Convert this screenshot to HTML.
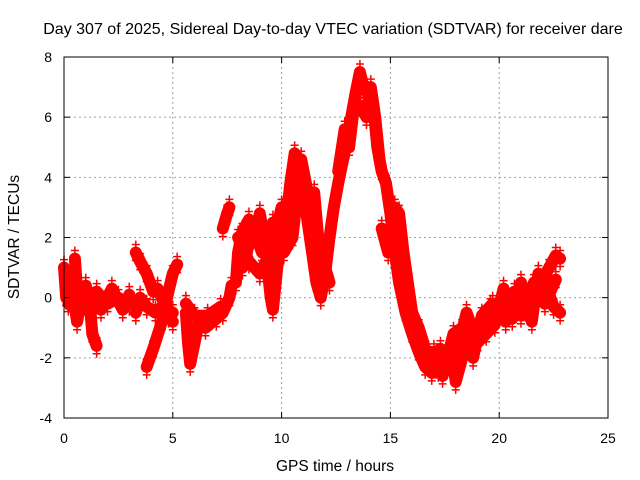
<!DOCTYPE html>
<html><head><meta charset="utf-8"><style>
body{margin:0;background:#fff}
svg{display:block;font-family:"Liberation Sans",sans-serif}
</style></head><body>
<svg id="chart" width="640" height="480" viewBox="0 0 640 480" xmlns="http://www.w3.org/2000/svg">
<rect width="640" height="480" fill="#fff"/>
<text x="333" y="34" font-size="16" text-anchor="middle">Day 307 of 2025, Sidereal Day-to-day VTEC variation (SDTVAR) for receiver dare</text>
<g id="grid"></g>
<g id="series"></g>
<g id="axes"></g>
<text x="335" y="471" font-size="15.5" text-anchor="middle">GPS time / hours</text>
<text transform="translate(19,237) rotate(-90)" font-size="15.5" text-anchor="middle">SDTVAR / TECUs</text>
</svg>
<script>
const xTicks = [0,5,10,15,20,25];
const yTicks = [-4,-2,0,2,4,6,8];
const traceA1 = [[0,1.0],[0.1,0],[0.3,0.6],[0.5,-0.3],[0.6,-0.8],[0.8,0],[1.0,0.4],[1.2,-0.3],[1.3,-1.2],[1.5,-1.6]];
const traceA2 = [[0.5,1.3],[0.6,0.2],[1.0,0],[1.5,0.2],[2.0,-0.2],[2.5,0],[3.0,-0.2]];
const traceA3 = [[0.2,-0.2],[0.7,-0.5],[1.2,-0.1],[1.7,-0.4],[2.2,0.3],[2.7,-0.4],[3.0,0.1]];
const traceB1 = [[3.3,1.5],[3.5,1.2],[3.8,0.8],[4.1,0.2],[4.3,0.3],[4.5,0],[4.8,-0.6],[5.0,-0.8]];
const traceB2 = [[3.3,-0.5],[3.5,0],[3.8,-0.3],[4.2,-0.5],[4.5,-0.3],[5.0,-0.5]];
const traceB3 = [[3.8,-2.3],[4.1,-1.7],[4.5,-0.8],[4.8,0.2],[5.0,0.8],[5.2,1.1]];
const traceC1 = [[5.6,-0.5],[5.7,-1.5],[5.8,-2.2],[6.0,-1.5],[6.2,-0.8],[6.5,-1.0],[7.0,-0.7],[7.3,-0.5],[7.6,0],[7.7,0.4]];
const traceC2 = [[5.6,-0.2],[6.0,-0.6],[6.6,-0.6],[7.2,-0.3]];
const traceC3 = [[7.3,2.3],[7.5,2.8],[7.6,3.0]];
const traceD1 = [[7.9,0.5],[8.0,1.5],[8.2,2.2],[8.5,2.6],[8.8,2.0],[9.0,2.8],[9.2,2.0],[9.5,0],[9.6,-0.4],[9.8,1.0],[10.0,2.0],[10.2,2.5],[10.4,3.8],[10.6,4.8],[10.8,4.5],[11.0,3.5],[11.2,2.5],[11.4,1.5],[11.6,0.5],[11.8,0],[12.0,0.8],[12.2,2.0],[12.4,3.0],[12.6,3.8],[12.8,4.5],[13.0,5.2],[13.2,6.0],[13.4,6.8],[13.6,7.5],[13.8,6.9],[14.0,6.8],[14.2,6.5],[14.4,5.0],[14.6,4.2],[14.8,3.8],[15.0,2.8],[15.2,1.5],[15.4,0.5],[15.7,-0.5],[16.0,-1.2],[16.3,-1.8],[16.6,-2.3],[16.9,-2.5],[17.2,-2.4],[17.5,-2.0],[17.8,-1.6],[18.0,-2.8],[18.3,-2.0],[18.6,-1.5],[19.0,-1.2],[19.3,-0.8],[19.6,-0.3],[19.9,-0.6],[20.2,-0.1],[20.5,-0.5],[20.8,-0.3],[21.0,-0.6],[21.3,0],[21.6,0.5],[22.0,0.6],[22.3,1.0],[22.6,1.4],[22.8,1.3]];
const traceD2 = [[8.0,2.0],[8.5,1.2],[9.0,0.8],[9.5,1.5],[10.0,3.0],[10.3,2.8],[10.6,4.0],[11.0,3.0],[11.3,2.5],[11.5,3.5],[11.8,1.0],[12.0,1.5]];
const traceD3 = [[8.2,1.0],[8.7,2.3],[9.1,1.5],[9.6,2.5],[10.1,1.5],[10.5,2.0],[10.9,4.6],[11.2,3.5],[11.6,2.0],[12.2,0.5]];
const traceD4 = [[12.6,4.2],[12.9,5.6],[13.1,5.0],[13.3,6.2],[13.6,6.4],[13.9,6.0],[14.1,7.0],[14.3,6.0],[14.5,4.6]];
const traceE = [[14.6,2.3],[14.9,1.5],[15.2,3.0],[15.4,2.8],[15.6,1.5],[15.8,0.5],[16.0,-0.5],[16.3,-1.0],[16.6,-1.7],[16.9,-2.0],[17.3,-1.7],[17.7,-2.2],[18.0,-2.0],[18.5,-0.5],[19.0,-1.5],[19.4,-1.2],[19.8,-0.9],[20.2,0.3],[20.6,-0.7],[21.0,0.5],[21.5,-0.8],[21.8,0.8],[22.2,0.3],[22.5,-0.3],[22.8,-0.5]];
const traceF = [[17.0,-1.8],[17.4,-2.6],[17.9,-1.2],[18.3,-1.0],[18.8,-2.0],[19.2,-0.6],[19.7,-0.2],[20.3,-0.8],[20.7,0.2],[21.2,-0.4],[21.7,0.2],[22.1,-0.2],[22.6,0.6]];
const traces = [traceA1,traceA2,traceA3,traceB1,traceB2,traceB3,traceC1,traceC2,traceC3,traceD1,traceD2,traceD3,traceD4,traceE,traceF];

const X0=64,X1=608,Y0=418,Y1=57;
const xScale = t => X0 + (t-0)/(25-0)*(X1-X0);
const yScale = v => Y0 - (v-(-4))/(8-(-4))*(Y0-Y1);
const NS="http://www.w3.org/2000/svg";
function mk(tag, attrs, parent){const e=document.createElementNS(NS,tag);for(const k in attrs)e.setAttribute(k,attrs[k]);parent.appendChild(e);return e;}
const grid=document.getElementById('grid'), axes=document.getElementById('axes'), series=document.getElementById('series');

xTicks.forEach(t=>{
  const x=xScale(t);
  if(t>0&&t<25){const g=mk('line',{x1:x,x2:x,y1:Y1,y2:Y0,stroke:'#a0a0a0','stroke-dasharray':'2,3'},grid);
  
  }
  mk('line',{x1:x,x2:x,y1:Y0,y2:Y0-6,stroke:'#000'},axes);
  mk('line',{x1:x,x2:x,y1:Y1,y2:Y1+6,stroke:'#000'},axes);
  const l=mk('text',{x:x,y:Y0+25,'font-size':14,'text-anchor':'middle'},axes);
  l.textContent=t;
  
  
});
yTicks.forEach(v=>{
  const y=yScale(v);
  if(v>-4&&v<8){const g=mk('line',{x1:X0,x2:X1,y1:y,y2:y,stroke:'#a0a0a0','stroke-dasharray':'2,3'},grid);
  
  }
  mk('line',{x1:X0,x2:X0+6,y1:y,y2:y,stroke:'#000'},axes);
  mk('line',{x1:X1,x2:X1-6,y1:y,y2:y,stroke:'#000'},axes);
  const l=mk('text',{x:X0-12,y:y+5,'font-size':14,'text-anchor':'end'},axes);
  l.textContent=v;
  
  
});
const frame=mk('rect',{x:X0,y:Y1,width:X1-X0,height:Y0-Y1,fill:'none',stroke:'#000'},axes);



traces.forEach(tr=>{
  const pts=tr.map(p=>xScale(p[0]).toFixed(1)+','+yScale(p[1]).toFixed(1)).join(' ');
  const pl=mk('polyline',{points:pts,fill:'none',stroke:'#f00','stroke-width':12,'stroke-linejoin':'round','stroke-linecap':'round'},series);
  
  
  tr.forEach(p=>{
    const x=xScale(p[0]),y=yScale(p[1]);
    const m=mk('path',{d:`M${x-4},${y-8}h8M${x},${y-12}v8M${x-4},${y+8}h8M${x},${y+4}v8`,stroke:'#f00','stroke-width':1.5},series);
    
    
  });
});
</script>
</body></html>
